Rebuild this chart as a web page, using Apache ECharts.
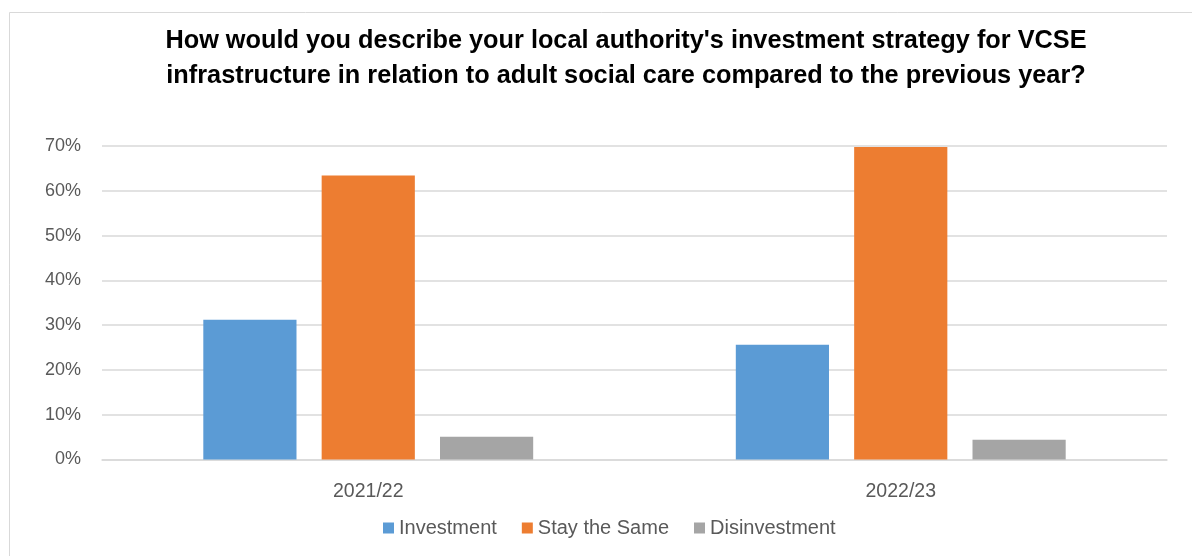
<!DOCTYPE html>
<html>
<head>
<meta charset="utf-8">
<script src="https://cdn.jsdelivr.net/npm/echarts@6/dist/echarts.min.js"></script>
<style>
  html, body { margin: 0; padding: 0; background: #ffffff; }
  #chart { width: 1192px; height: 556px; }
</style>
</head>
<body>
<div id="chart"></div>
<script>
// Survey periods on the x axis
const years = ['2021/22', '2022/23'];

// Share of respondents (%) per answer
const investment = [31.2, 25.6];
const stayTheSame = [63.4, 69.8];
const disinvestment = [5.1, 4.4];

// Value axis ticks
const yTicks = [0, 10, 20, 30, 40, 50, 60, 70];

const titleText = "How would you describe your local authority's investment strategy for VCSE\ninfrastructure in relation to adult social care compared to the previous year?";

const FONT = '"Liberation Sans", Arial, sans-serif';
const gridColor = '#d9d9d9';
const textColor = '#595959';

const chart = echarts.init(document.getElementById('chart'), null, { renderer: 'canvas' });

const barStyle = { barWidth: '17.5%', barGap: '27%' };

chart.setOption({
  animation: false,
  backgroundColor: '#ffffff',
  color: ['#5b9bd5', '#ed7d31', '#a5a5a5'],
  graphic: [{
    type: 'rect',
    shape: { x: 9.5, y: 12.5, width: 1400, height: 800 },
    style: { fill: 'none', stroke: gridColor, lineWidth: 1 },
    silent: true,
    z: -1
  }],
  title: {
    text: titleText,
    left: 621,
    textAlign: 'center',
    top: 19,
    textStyle: {
      fontFamily: FONT,
      fontWeight: 'bold',
      fontSize: 25.3,
      lineHeight: 35,
      color: '#000000'
    }
  },
  legend: {
    bottom: 13,
    left: 378,
    itemWidth: 11,
    itemHeight: 11,
    itemGap: 25,
    icon: 'rect',
    textStyle: { fontFamily: FONT, fontSize: 20, color: textColor }
  },
  grid: { left: 102, right: 25, top: 146, bottom: 96.5 },
  xAxis: {
    type: 'category',
    data: years,
    axisTick: { show: false },
    axisLine: { show: true, lineStyle: { color: gridColor, width: 1.5 } },
    axisLabel: { margin: 22, fontFamily: FONT, fontSize: 19.5, color: textColor }
  },
  yAxis: {
    type: 'value',
    min: yTicks[0],
    max: yTicks[yTicks.length - 1],
    interval: 10,
    axisLine: { show: false },
    axisTick: { show: false },
    splitLine: { lineStyle: { color: gridColor, width: 1.5 } },
    axisLabel: {
      margin: 21,
      fontFamily: FONT,
      fontSize: 18,
      color: textColor,
      formatter: v => v + '%'
    }
  },
  series: [
    Object.assign({ name: 'Investment', type: 'bar', data: investment }, barStyle),
    Object.assign({ name: 'Stay the Same', type: 'bar', data: stayTheSame }, barStyle),
    Object.assign({ name: 'Disinvestment', type: 'bar', data: disinvestment }, barStyle)
  ]
});
</script>
</body>
</html>
